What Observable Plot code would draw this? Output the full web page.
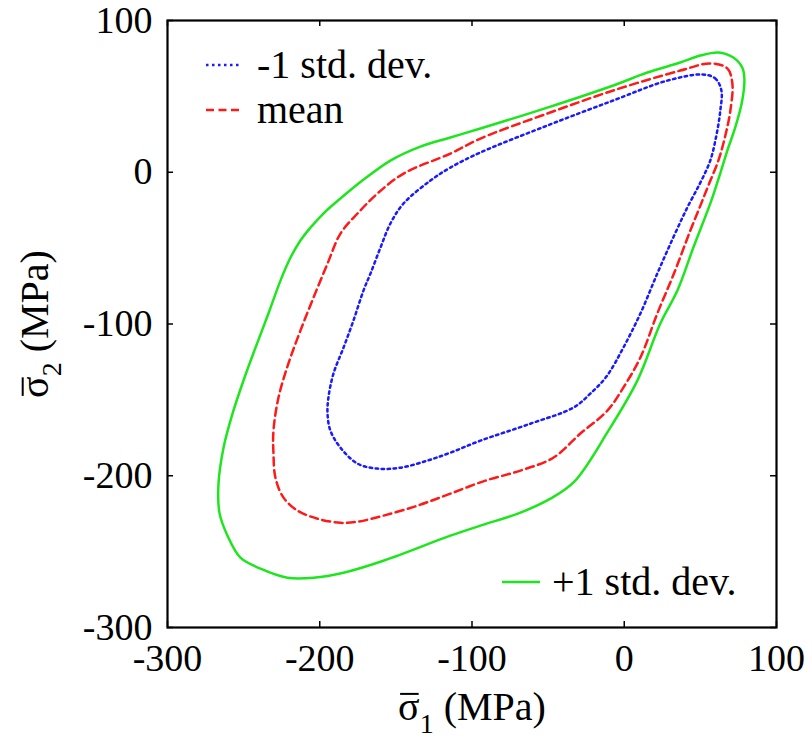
<!DOCTYPE html>
<html><head><meta charset="utf-8">
<script src="https://cdn.jsdelivr.net/npm/d3@7"></script>
<script src="https://cdn.jsdelivr.net/npm/@observablehq/plot@0.6"></script>
<style>body{margin:0;background:#fff}</style>
</head><body><div id="chart"></div>
<script>
// ---- data (MPa) ----
const xTicks = [-300, -200, -100, 0, 100];
const yTicks = [-300, -200, -100, 0, 100];
const xLabelParts = ["σ", "1", " (MPa)"];   // σ carries an overbar
const yLabelParts = ["σ", "2", " (MPa)"];
const seriesNames = ["-1 std. dev.", "mean", "+1 std. dev."];

const minusStd = [[51.3,64.4],[59.8,61.8],[63.8,53.9],[63.1,40.7],[60.5,24.2],[56.5,7.7],[50.0,-6.8],[41.4,-23.3],[32.2,-43.0],[21.7,-66.8],[10.6,-93.1],[-0.6,-115.6],[-11.6,-134.5],[-22.3,-145.9],[-33.4,-155.1],[-61.7,-165.7],[-94.5,-176.9],[-114.2,-184.8],[-129.3,-190.0],[-147.0,-194.7],[-162.1,-195.3],[-175.2,-192.0],[-186.4,-181.5],[-193.0,-170.3],[-194.9,-159.1],[-194.3,-148.5],[-191.0,-132.7],[-184.4,-115.6],[-177.9,-97.8],[-171.3,-78.0],[-166.7,-66.8],[-160.1,-49.6],[-153.6,-33.8],[-145.0,-20.6],[-127.3,-5.5],[-114.2,3.1],[-94.5,13.0],[-50.5,30.8],[-7.2,47.3],[28.3,60.4]];

const meanCurve = [[56.5,71.7],[67.7,68.4],[71.0,58.5],[69.7,40.7],[66.4,24.2],[61.8,7.7],[55.2,-8.8],[50.0,-22.0],[43.4,-38.4],[32.9,-66.1],[21.7,-93.1],[10.6,-122.1],[-0.6,-141.9],[-11.1,-157.1],[-28.8,-172.2],[-46.6,-188.1],[-68.2,-196.6],[-91.2,-203.2],[-114.2,-211.8],[-135.8,-219.7],[-158.2,-226.3],[-175.2,-230.3],[-186.4,-231.0],[-201.5,-228.3],[-214.6,-223.0],[-223.8,-214.4],[-229.1,-201.3],[-230.4,-185.4],[-230.4,-170.3],[-227.1,-148.5],[-220.6,-126.1],[-212.7,-104.4],[-204.1,-82.6],[-194.9,-60.2],[-186.4,-40.4],[-175.2,-27.2],[-162.1,-14.0],[-145.0,-0.9],[-114.2,12.3],[-94.5,22.2],[-50.5,38.7],[-7.2,53.9],[36.8,67.0]];

const plusStd = [[61.8,78.9],[71.6,75.6],[77.5,69.0],[78.9,61.8],[77.5,47.3],[72.9,29.5],[67.7,14.3],[62.4,-2.8],[57.2,-18.7],[45.4,-49.6],[34.9,-78.0],[23.7,-99.7],[8.6,-137.3],[-10.4,-170.3],[-32.8,-203.9],[-48.5,-215.1],[-68.2,-224.3],[-94.5,-232.9],[-114.2,-239.5],[-158.2,-256.0],[-184.4,-263.9],[-204.1,-267.2],[-221.2,-267.2],[-238.9,-261.2],[-252.1,-254.0],[-260.6,-239.5],[-265.9,-224.3],[-266.5,-205.2],[-263.2,-181.5],[-257.3,-159.1],[-250.1,-137.3],[-242.2,-115.6],[-233.7,-93.1],[-225.8,-71.4],[-219.2,-56.2],[-212.7,-45.0],[-206.1,-36.5],[-197.6,-27.2],[-186.4,-17.3],[-172.0,-5.5],[-153.6,7.7],[-133.9,16.9],[-114.2,22.9],[-94.5,28.8],[-50.5,42.6],[-7.2,57.2],[15.2,65.7],[36.8,72.3],[50.0,76.9]];

// ---- styles ----
const font = '"Liberation Serif","Times New Roman",Times,serif';
const styles = {
  "-1 std. dev.": {stroke: "#1a1aff", dash: "2.5,3.5"},
  "mean": {stroke: "#ff1a1a", dash: "8,4.5"},
  "+1 std. dev.": {stroke: "#1ee61e", dash: null}
};
const toRows = (arr) => arr.map(([x, y]) => ({x, y}));
const curveMark = (arr, name) => Plot.line(toRows(arr), {
  x: "x", y: "y", curve: "catmull-rom-closed",
  stroke: styles[name].stroke, strokeWidth: 2.5,
  strokeDasharray: styles[name].dash || undefined
});

const fw = 812 - 167 - 36, fh = 742 - 20 - 115;
const tl = 6;

const chart = Plot.plot({
  width: 812, height: 742,
  marginLeft: 167, marginRight: 36, marginTop: 20, marginBottom: 115,
  style: {fontFamily: font, background: "#fff", color: "#000", overflow: "visible"},
  x: {domain: [-300, 100]},
  y: {domain: [-300, 100]},
  marks: [
    curveMark(plusStd, "+1 std. dev."),
    curveMark(meanCurve, "mean"),
    curveMark(minusStd, "-1 std. dev."),
    Plot.frame({stroke: "#000", strokeWidth: 2.2}),
    Plot.tickX(xTicks, {x: d => d, insetTop: fh - tl, stroke: "#000", strokeWidth: 1.5}),
    Plot.tickX(xTicks, {x: d => d, insetBottom: fh - tl, stroke: "#000", strokeWidth: 1.5}),
    Plot.tickY(yTicks, {y: d => d, insetRight: fw - tl, stroke: "#000", strokeWidth: 1.5}),
    Plot.tickY(yTicks, {y: d => d, insetLeft: fw - tl, stroke: "#000", strokeWidth: 1.5}),
    Plot.axisX({ticks: xTicks, tickSize: 0, tickPadding: 17, fontSize: 38, label: null, tickFormat: d => String(d)}),
    Plot.axisY({ticks: yTicks, tickSize: 0, tickPadding: 15, fontSize: 38, label: null, tickFormat: d => String(d)}),
    Plot.text([xLabelParts.join("")], {text: d => d, frameAnchor: "bottom", dy: 92, textAnchor: "middle", lineAnchor: "bottom", fontSize: 40, fill: "#000"}),
    Plot.text([yLabelParts.join("")], {text: d => d, frameAnchor: "left", dx: -132, rotate: -90, textAnchor: "middle", lineAnchor: "middle", fontSize: 40, fill: "#000"})
  ]
});
document.getElementById("chart").appendChild(chart);

// subscripts and overbars in axis labels
const svg = d3.select(chart);
[xLabelParts, yLabelParts].forEach(parts => {
  const full = parts.join("");
  svg.selectAll("text").filter(function () { return this.textContent === full; }).each(function () {
    const t = d3.select(this);
    t.attr("aria-label", "σ̄" + parts[1] + parts[2]);
    t.text(null);
    t.append("tspan").text(parts[0]);
    t.append("tspan").attr("dy", 13).attr("font-size", 28).text(parts[1]);
    t.append("tspan").attr("dy", -13).text(parts[2]);
    const ext = this.getExtentOfChar(0);
    const fs = 40;
    d3.select(this.parentNode).append("line")
      .attr("transform", t.attr("transform"))
      .attr("x1", ext.x + 2).attr("x2", ext.x + ext.width - 1)
      .attr("y1", ext.y + 0.26 * fs).attr("y2", ext.y + 0.26 * fs)
      .attr("stroke", "#000").attr("stroke-width", 2);
  });
});

// legend (inside the frame, like the reference)
const legendItems = [
  {name: seriesNames[0], x1: 206, x2: 241, y: 65, tx: 257},
  {name: seriesNames[1], x1: 206, x2: 241, y: 110, tx: 257},
  {name: seriesNames[2], x1: 502, x2: 540, y: 582, tx: 552}
];
const lg = svg.append("g").attr("font-family", font).attr("font-size", 40).attr("text-anchor", "start");
legendItems.forEach(it => {
  const s = styles[it.name];
  lg.append("line").attr("x1", it.x1).attr("x2", it.x2).attr("y1", it.y).attr("y2", it.y)
    .attr("stroke", s.stroke).attr("stroke-width", 2.5).attr("stroke-dasharray", s.dash);
  lg.append("text").attr("x", it.tx).attr("y", it.y).attr("dy", "0.32em").attr("fill", "#000").text(it.name);
});
</script>
</body></html>
